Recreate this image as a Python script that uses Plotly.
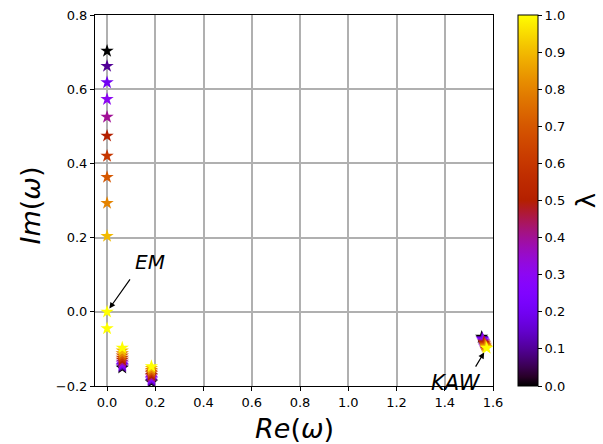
import math
import plotly.graph_objects as go

# EM mode column (Re ~ 0)
em_re = [0.0, 0.0, 0.0, 0.0, 0.0, 0.0, 0.0, 0.0, 0.0, 0.0, 0.0, 0.0]
em_im = [0.703, 0.662, 0.618, 0.573, 0.525, 0.474, 0.420, 0.363, 0.293, 0.204, 0.0, -0.045]
em_lam = [0.0, 0.1, 0.2, 0.3, 0.4, 0.5, 0.6, 0.7, 0.8, 0.9, 1.0, 1.0]

# cluster near Re ~ 0.063
c1_re = [0.063, 0.063, 0.063, 0.063, 0.063, 0.063, 0.063, 0.063, 0.063, 0.063, 0.063]
c1_im = [-0.151, -0.148, -0.144, -0.140, -0.135, -0.130, -0.124, -0.118, -0.112, -0.105, -0.097]
c1_lam = [0.0, 0.1, 0.2, 0.3, 0.4, 0.5, 0.6, 0.7, 0.8, 0.9, 1.0]

# cluster near Re ~ 0.184
c2_re = [0.184, 0.184, 0.184, 0.184, 0.184, 0.184, 0.184, 0.184, 0.184, 0.184, 0.184]
c2_im = [-0.190, -0.187, -0.183, -0.179, -0.175, -0.171, -0.166, -0.162, -0.157, -0.152, -0.147]
c2_lam = [0.0, 0.1, 0.2, 0.3, 0.4, 0.5, 0.6, 0.7, 0.8, 0.9, 1.0]

# KAW cluster near Re ~ 1.56
c3_re = [1.553, 1.555, 1.557, 1.559, 1.561, 1.563, 1.565, 1.567, 1.569, 1.571, 1.574]
c3_im = [-0.068, -0.071, -0.074, -0.077, -0.080, -0.083, -0.086, -0.089, -0.092, -0.095, -0.098]
c3_lam = [0.0, 0.1, 0.2, 0.3, 0.4, 0.5, 0.6, 0.7, 0.8, 0.9, 1.0]

x_ticks = [0.0, 0.2, 0.4, 0.6, 0.8, 1.0, 1.2, 1.4, 1.6]
y_ticks = [-0.2, 0.0, 0.2, 0.4, 0.6, 0.8]
cb_ticks = [0.0, 0.1, 0.2, 0.3, 0.4, 0.5, 0.6, 0.7, 0.8, 0.9, 1.0]

# matplotlib 'gnuplot' colormap: r=sqrt(x), g=x^3, b=sin(2*pi*x)
def gnuplot(t):
    r = math.sqrt(t)
    g = t ** 3
    b = max(0.0, math.sin(2 * math.pi * t))
    return "rgb(%d,%d,%d)" % (round(r * 255), round(g * 255), round(b * 255))

n = 40
colorscale = [[i / n, gnuplot(i / n)] for i in range(n + 1)]

all_re = em_re + c1_re + c2_re + c3_re
all_im = em_im + c1_im + c2_im + c3_im
all_lam = em_lam + c1_lam + c2_lam + c3_lam

fig = go.Figure()
fig.add_trace(go.Scatter(
    x=all_re, y=all_im, mode="markers",
    marker=dict(
        symbol="star", size=10, color=all_lam, colorscale=colorscale,
        cmin=0, cmax=1, line=dict(width=0),
        showscale=True,
        colorbar=dict(
            x=1.063, xanchor="left", y=0.5, yanchor="middle",
            len=1, lenmode="fraction", thickness=20,
            xpad=0, ypad=0,
            outlinewidth=1, outlinecolor="black",
            ticks="outside", ticklen=4, tickcolor="black",
            tickvals=cb_ticks, tickformat=".1f",
            tickfont=dict(family="DejaVu Sans", size=13, color="black"),
        ),
    ),
    showlegend=False, hoverinfo="skip",
))

axis_common = dict(
    showgrid=True, gridcolor="#b0b0b0", gridwidth=1.5,
    zeroline=False, showline=True, linecolor="black", linewidth=1,
    mirror=True, ticks="outside", ticklen=4, tickcolor="black",
    tickformat=".1f", automargin=False,
    tickfont=dict(family="DejaVu Sans", size=13, color="black"),
)

fig.update_layout(
    width=603, height=444,
    margin=dict(l=95, r=110, t=15, b=58, autoexpand=False),
    paper_bgcolor="white", plot_bgcolor="white",
    xaxis=dict(range=[-0.05, 1.6], tickvals=x_ticks, **axis_common),
    yaxis=dict(range=[-0.2, 0.8], tickvals=y_ticks, **axis_common),
    font=dict(family="DejaVu Sans", color="black"),
    annotations=[
        # axis titles
        dict(text="<i>Re</i>(<i>ω</i>)", xref="paper", yref="paper", x=0.5, y=0,
             yanchor="middle", xanchor="center", yshift=-42, showarrow=False,
             font=dict(family="DejaVu Sans", size=27, color="black")),
        dict(text="<i>Im</i>(<i>ω</i>)", xref="paper", yref="paper", x=0, y=0.5,
             xanchor="center", yanchor="middle", xshift=-65, yshift=-5,
             textangle=-90, showarrow=False,
             font=dict(family="DejaVu Sans", size=27, color="black")),
        dict(text="λ", xref="paper", yref="paper", x=1.233, y=0.5,
             xanchor="center", yanchor="middle", textangle=-90, showarrow=False,
             font=dict(family="DejaVu Sans", size=26, color="black")),
        # EM label + arrow
        dict(text="<i>EM</i>", xref="x", yref="y", x=0.18, y=0.134,
             xanchor="center", yanchor="middle", showarrow=False,
             font=dict(family="DejaVu Sans", size=20, color="black")),
        dict(text="", xref="x", yref="y", x=0.0, y=0.0, showarrow=True,
             ax=24, ay=-34, arrowhead=2, arrowsize=1, arrowwidth=1.2,
             arrowcolor="black", standoff=4),
        # KAW label + arrow
        dict(text="<i>KAW</i>", xref="x", yref="y", x=1.447, y=-0.191,
             xanchor="center", yanchor="middle", showarrow=False,
             font=dict(family="DejaVu Sans", size=21, color="black")),
        dict(text="", xref="x", yref="y", x=1.574, y=-0.098, showarrow=True,
             ax=-12, ay=20, arrowhead=2, arrowsize=1, arrowwidth=1.2,
             arrowcolor="black", standoff=5),
    ],
)

fig.write_html("out.html", config={"displayModeBar": False},
               post_script="document.body.style.margin='0';")
